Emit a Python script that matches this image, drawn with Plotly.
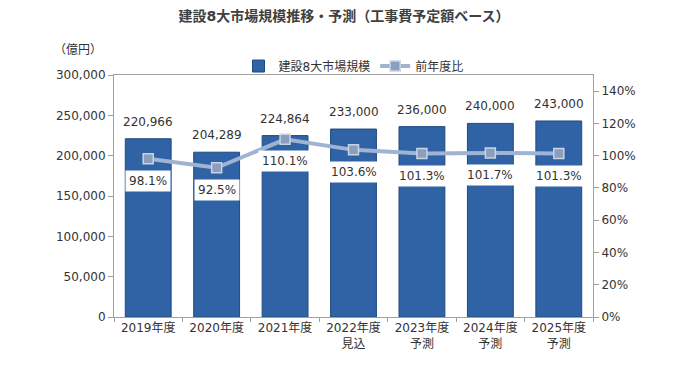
import plotly.graph_objects as go

categories = ["2019年度", "2020年度", "2021年度", "2022年度<br>見込", "2023年度<br>予測", "2024年度<br>予測", "2025年度<br>予測"]
market_size = [220966, 204289, 224864, 233000, 236000, 240000, 243000]
yoy_ratio = [98.1, 92.5, 110.1, 103.6, 101.3, 101.7, 101.3]
left_ticks = [0, 50000, 100000, 150000, 200000, 250000, 300000]
right_ticks = [0, 20, 40, 60, 80, 100, 120, 140]

FONT = "DejaVu Sans, Noto Sans CJK JP"
TXT = "#333333"

fig = go.Figure()
fig.add_trace(go.Bar(
    x=categories, y=market_size, name="建設8大市場規模",
    marker=dict(color="#2F63A6", line=dict(color="#1E4A80", width=1)),
    width=0.67,
))
fig.add_trace(go.Scatter(
    x=categories, y=yoy_ratio, name="前年度比", yaxis="y2",
    mode="lines+markers",
    line=dict(color="#A0B3D3", width=4),
    marker=dict(symbol="square", size=10, color="#8C9EBE", line=dict(color="#C8D3E6", width=1.5)),
))

for c, v in zip(categories, market_size):
    fig.add_annotation(x=c, y=v, yref="y", text=f"{v:,}", showarrow=False,
                       yshift=17, font=dict(size=12, color=TXT, family=FONT))

for c, v in zip(categories, yoy_ratio):
    fig.add_annotation(x=c, y=v, yref="y2", text=f"{v}%", showarrow=False,
                       yshift=-22, bgcolor="white", borderpad=3,
                       font=dict(size=12, color=TXT, family=FONT))

fig.add_annotation(x=-0.075, y=1.103, xref="paper", yref="paper", text="（億円）", showarrow=False,
                   xanchor="center", yanchor="middle",
                   font=dict(size=12, color=TXT, family=FONT))

fig.update_layout(
    width=672, height=357,
    margin=dict(l=106, r=87, t=67, b=48),
    paper_bgcolor="white", plot_bgcolor="white",
    font=dict(family=FONT, size=12, color=TXT),
    title=dict(text="<b>建設8大市場規模推移・予測（工事費予定額ベース）</b>", x=0.5, xanchor="center",
               y=0.978, yanchor="middle", font=dict(size=14, color="#404040", family=FONT)),
    showlegend=True,
    legend=dict(orientation="h", x=0.5, xanchor="center", y=1.037, yanchor="middle",
                font=dict(size=12, color=TXT), bgcolor="rgba(0,0,0,0)"),
    bargap=0.33,
    xaxis=dict(showline=True, linecolor="#A0A0A0", mirror=True, ticks="outside",
               tickson="boundaries", ticklen=4, tickcolor="#A0A0A0",
               tickfont=dict(size=12, color=TXT)),
    yaxis=dict(range=[0, 300000], tickvals=left_ticks, tickformat=",",
               showline=True, linecolor="#A0A0A0", mirror=True, ticks="outside",
               ticklen=5, tickcolor="#A0A0A0", showgrid=False, zeroline=False,
               tickfont=dict(size=12, color=TXT)),
    yaxis2=dict(range=[0, 150], tickvals=right_ticks, ticktext=[f"{t}%" for t in right_ticks],
                overlaying="y", side="right", showline=True, linecolor="#A0A0A0",
                ticks="outside", ticklen=5, tickcolor="#A0A0A0", showgrid=False, zeroline=False,
                tickfont=dict(size=12, color=TXT)),
)

fig.write_html("out.html")
